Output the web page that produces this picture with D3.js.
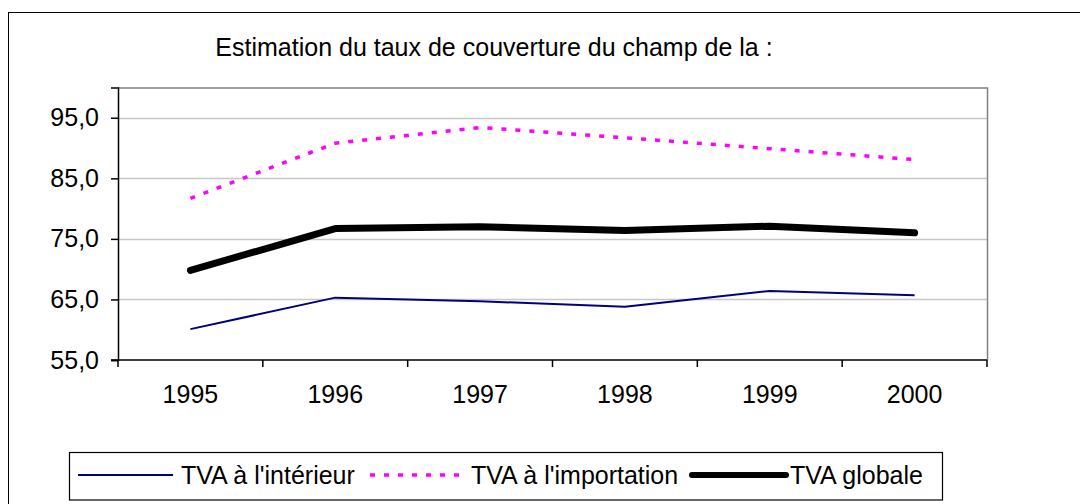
<!DOCTYPE html>
<html><head><meta charset="utf-8">
<script src="https://cdn.jsdelivr.net/npm/d3@7"></script>
<style>body{margin:0;background:#fff}svg{display:block}text{font-family:"Liberation Sans",Arial,sans-serif;fill:#000}</style>
</head><body>
<svg id="c" width="1080" height="504"></svg>
<script>
const years = ["1995","1996","1997","1998","1999","2000"];
const interieur = [60.1, 65.3, 64.7, 63.8, 66.4, 65.7];
const importation = [81.7, 90.8, 93.4, 91.7, 89.9, 88.1];
const globale = [69.8, 76.7, 77.0, 76.4, 77.1, 76.0];
const yTicks = [55, 65, 75, 85, 95];
const title = "Estimation du taux de couverture du champ de la :";
const legendLabels = ["TVA à l'intérieur", "TVA à l'importation", "TVA globale"];

const svg = d3.select("#c");
const L = 118, R = 987, T = 87.5, B = 360;
const FS = "25px";
const x = d3.scaleBand().domain(years).range([L, R]).padding(0);
const y = d3.scaleLinear().domain([55, 100]).range([B, T]);
const fmt = v => d3.format(".1f")(v).replace(".", ",");

// outer frame
svg.append("rect").attr("x", 8.5).attr("y", 12.5).attr("width", 1200).attr("height", 600)
  .attr("fill", "none").attr("stroke", "#000").attr("stroke-width", 1);

// title
svg.append("text").attr("x", 494).attr("y", 56).attr("text-anchor", "middle")
  .style("font-size", FS).text(title);

// gridlines
svg.append("g").selectAll("line").data(yTicks.filter(v => v > 55)).join("line")
  .attr("x1", L).attr("x2", R).attr("y1", d => Math.round(y(d)) + 0.5).attr("y2", d => Math.round(y(d)) + 0.5)
  .attr("stroke", "#c8c8c8").attr("stroke-width", 1.5);

// plot frame top/right
svg.append("path").attr("d", `M${L},${T + 0.5}H${R + 0.5}V${B}`)
  .attr("fill", "none").attr("stroke", "#808080").attr("stroke-width", 1.5);

// y axis
const yAxis = d3.axisLeft(y).tickValues(yTicks).tickSize(7).tickPadding(12).tickFormat(fmt);
const gy = svg.append("g").attr("transform", `translate(${L},0)`).call(yAxis);
gy.select(".domain").attr("stroke", "#000").attr("stroke-width", 1.5);
gy.selectAll(".tick line").attr("stroke", "#000").attr("stroke-width", 1.5);
gy.selectAll("text").style("font-size", FS).attr("font-family", "Liberation Sans, Arial");

// x axis with ticks at category boundaries
const gx = svg.append("g").attr("transform", `translate(0,${B})`);
gx.append("line").attr("x1", L - 7).attr("x2", R).attr("stroke", "#000").attr("stroke-width", 1.5);
const bounds = years.map(d => x(d)).concat([R]);
gx.selectAll(".xt").data(bounds).join("line").attr("class", "xt")
  .attr("x1", d => d).attr("x2", d => d).attr("y1", 0).attr("y2", 7)
  .attr("stroke", "#000").attr("stroke-width", 1.5);
gx.selectAll(".xl").data(years).join("text").attr("class", "xl")
  .attr("x", d => x(d) + x.bandwidth() / 2).attr("y", 43).attr("text-anchor", "middle")
  .style("font-size", FS).text(d => d);

const cx = (d, i) => x(years[i]) + x.bandwidth() / 2;
const line = d3.line().x(cx).y(d => y(d));

svg.append("path").datum(interieur).attr("d", line).attr("fill", "none")
  .attr("stroke", "#000080").attr("stroke-width", 2);
svg.append("path").datum(importation).attr("d", line).attr("fill", "none")
  .attr("stroke", "#ff00ff").attr("stroke-width", 3.5).attr("stroke-dasharray", "5,9");
svg.append("path").datum(globale).attr("d", line).attr("fill", "none")
  .attr("stroke", "#000").attr("stroke-width", 7).attr("stroke-linecap", "round").attr("stroke-linejoin", "round");

// legend
const lg = svg.append("g");
lg.append("rect").attr("x", 69.5).attr("y", 452.5).attr("width", 873).attr("height", 47.5)
  .attr("fill", "#fff").attr("stroke", "#000").attr("stroke-width", 1.2);
const ly = 475;
const items = [
  {x1: 78, x2: 173, tx: 181, stroke: "#000080", w: 2, dash: null, cap: "butt"},
  {x1: 370, x2: 462, tx: 471, stroke: "#ff00ff", w: 3.5, dash: "5,9", cap: "butt"},
  {x1: 692, x2: 786, tx: 790, stroke: "#000", w: 6, dash: null, cap: "round"}
];
items.forEach((it, i) => {
  lg.append("line").attr("x1", it.x1).attr("x2", it.x2).attr("y1", ly).attr("y2", ly)
    .attr("stroke", it.stroke).attr("stroke-width", it.w).attr("stroke-dasharray", it.dash)
    .attr("stroke-linecap", it.cap);
  lg.append("text").attr("x", it.tx).attr("y", ly + 9).style("font-size", FS).text(legendLabels[i]);
});
</script>
</body></html>
